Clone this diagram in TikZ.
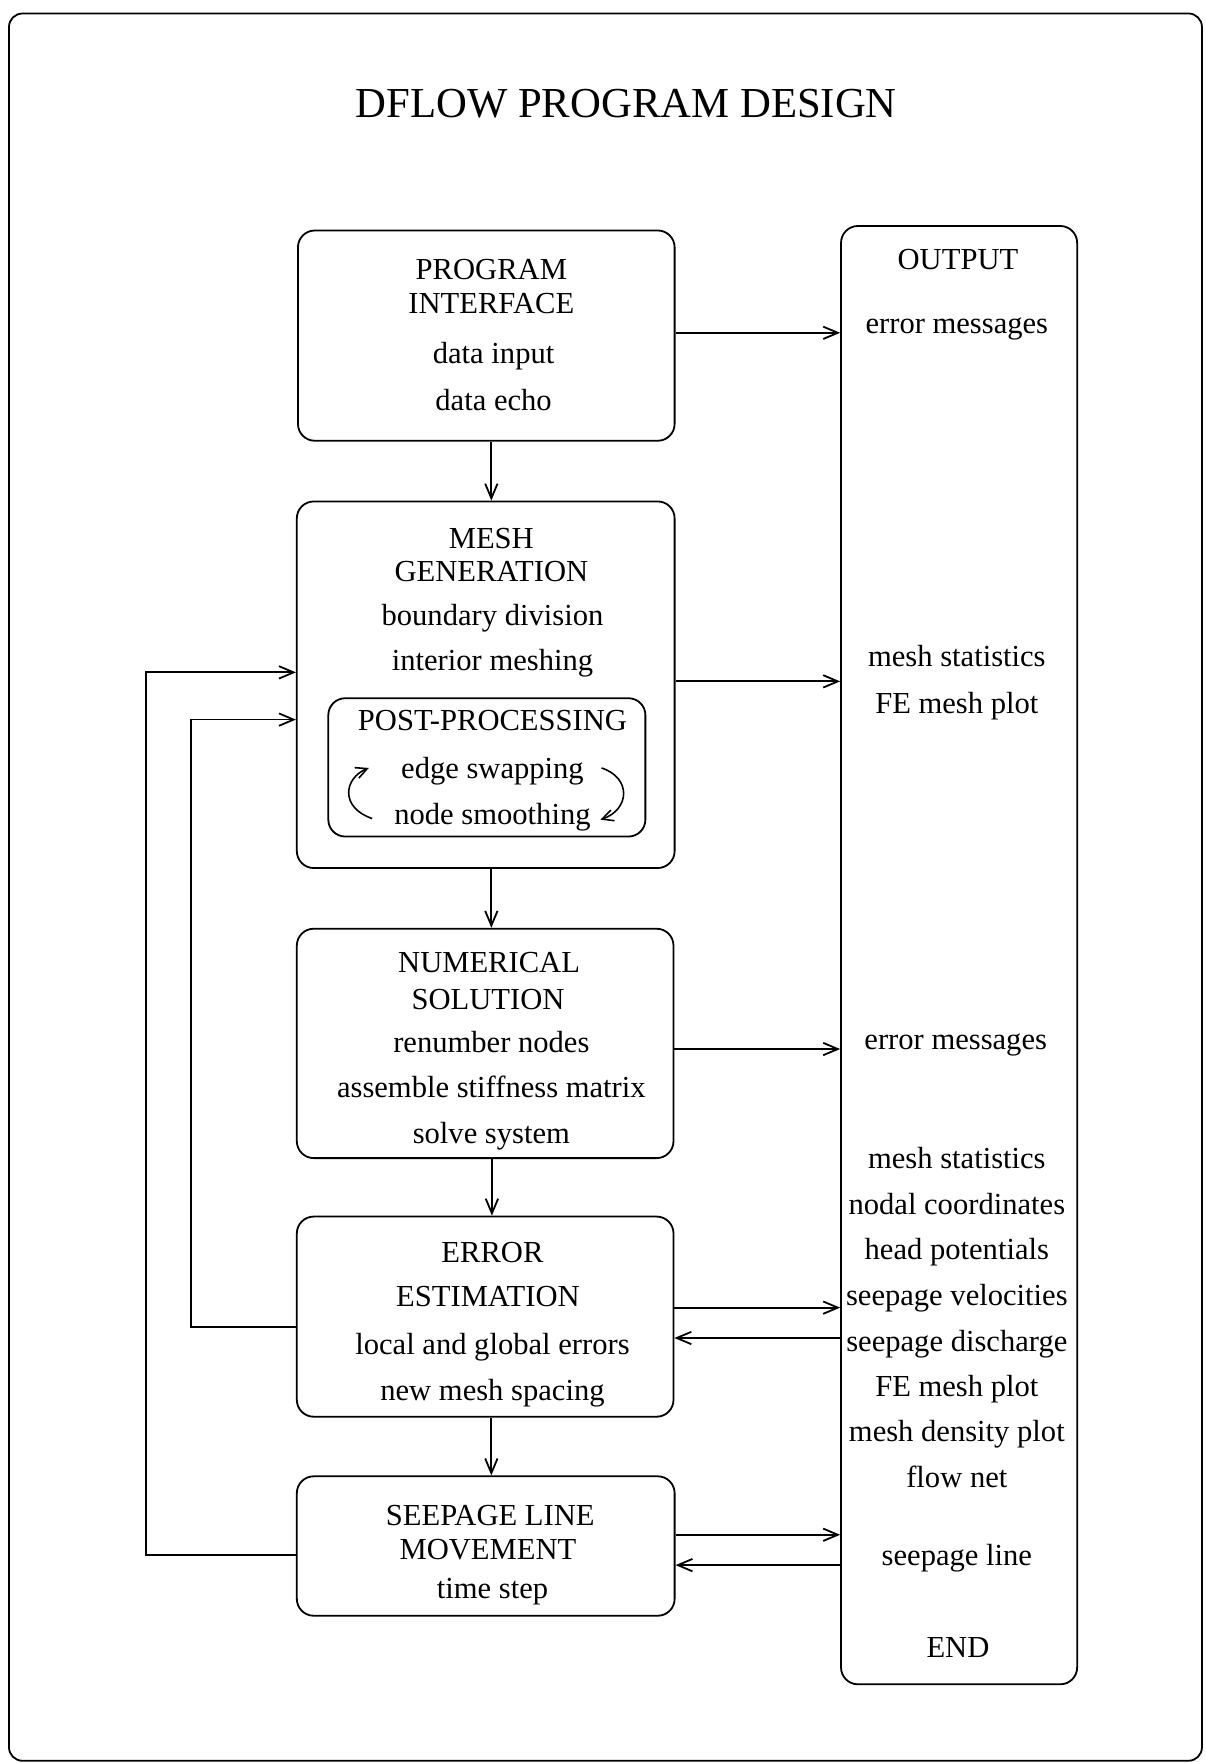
\documentclass[tikz,border=0pt]{standalone}
\usepackage{fontspec}
\setmainfont{Liberation Serif}
\usetikzlibrary{arrows.meta}
\tikzset{
  box/.style={draw, line width=0.8pt, rounded corners=7.5pt, inner sep=0pt},
  lbl/.style={inner sep=0pt, text height=9pt, text depth=0pt, font=\fontsize{13.6pt}{16pt}\selectfont},
  ttl/.style={inner sep=0pt, font=\fontsize{19pt}{22pt}\selectfont},
  arr/.style={line width=0.8pt, -{Straight Barb[length=6.5pt,width=5.5pt]}},
  carr/.style={line width=0.7pt, -{Straight Barb[length=5pt,width=5pt]}},
  line/.style={line width=0.8pt}
}
\begin{document}
\begin{tikzpicture}[x=0.5pt,y=-0.5pt]
\useasboundingbox (0,0) rectangle (1072,1568);
\draw[line, rounded corners=6pt] (8,12) rectangle (1069,1566);
\node[ttl] (title) at (557,92) {DFLOW PROGRAM DESIGN};

% boxes
\node[box, minimum width=167.5pt, minimum height=93.5pt] (pi) at (432.5,298.5) {};
\node[box, minimum width=168pt, minimum height=163pt] (mg) at (432,609) {};
\node[box, minimum width=141pt, minimum height=61.5pt] (pp) at (433,682.5) {};
\node[box, minimum width=167.5pt, minimum height=102pt] (ns) at (431.5,928) {};
\node[box, minimum width=167.5pt, minimum height=89pt] (ee) at (431.5,1171) {};
\node[box, minimum width=168pt, minimum height=62pt] (sl) at (432,1375) {};
\node[box, minimum width=105pt, minimum height=648.5pt] (out) at (853,849.5) {};

% box texts
\node[lbl] (t1a) at (437,240) {PROGRAM};
\node[lbl] (t1b) at (437,270) {INTERFACE};
\node[lbl] (t1c) at (439,314) {data input};
\node[lbl] (t1d) at (439,356) {data echo};

\node[lbl] (t2a) at (437,479) {MESH};
\node[lbl] (t2b) at (437,508) {GENERATION};
\node[lbl] (t2c) at (438,547) {boundary division};
\node[lbl] (t2d) at (438,587) {interior meshing};
\node[lbl] (t2e) at (438,641) {POST-PROCESSING};
\node[lbl] (t2f) at (438,683) {edge swapping};
\node[lbl] (t2g) at (438,724) {node smoothing};

\node[lbl] (t3a) at (435,856) {NUMERICAL};
\node[lbl] (t3b) at (434,889) {SOLUTION};
\node[lbl] (t3c) at (437,927) {renumber nodes};
\node[lbl] (t3d) at (437,967) {assemble stiffness matrix};
\node[lbl] (t3e) at (437,1008) {solve system};

\node[lbl] (t4a) at (438,1114) {ERROR};
\node[lbl] (t4b) at (434,1153) {ESTIMATION};
\node[lbl] (t4c) at (438,1196) {local and global errors};
\node[lbl] (t4d) at (438,1237) {new mesh spacing};

\node[lbl] (t5a) at (436,1348) {SEEPAGE LINE};
\node[lbl] (t5b) at (434,1378) {MOVEMENT};
\node[lbl] (t5c) at (438,1413) {time step};

% output texts
\node[lbl] (o1) at (852,231) {OUTPUT};
\node[lbl] (o2) at (851,288) {error messages};
\node[lbl] (o3) at (851,584) {mesh statistics};
\node[lbl] (o4) at (851,626) {FE mesh plot};
\node[lbl] (o5) at (850,924) {error messages};
\node[lbl] (o6) at (851,1030) {mesh statistics};
\node[lbl] (o7) at (851,1071) {nodal coordinates};
\node[lbl] (o8) at (851,1111) {head potentials};
\node[lbl] (o9) at (851,1152) {seepage velocities};
\node[lbl] (o10) at (851,1193) {seepage discharge};
\node[lbl] (o11) at (851,1233) {FE mesh plot};
\node[lbl] (o12) at (851,1273) {mesh density plot};
\node[lbl] (o13) at (851,1314) {flow net};
\node[lbl] (o14) at (851,1383) {seepage line};
\node[lbl] (o15) at (852,1465) {END};

% vertical arrows
\draw[arr] (pi.south -| 437,0) -- (mg.north -| 437,0);
\draw[arr] (mg.south -| 437,0) -- (ns.north -| 437,0);
\draw[arr] (ns.south -| 437.5,0) -- (ee.north -| 437.5,0);
\draw[arr] (ee.south -| 437,0) -- (sl.north -| 437,0);

% horizontal arrows to output
\draw[arr] (pi.east |- 0,296) -- (out.west |- 0,296);
\draw[arr] (mg.east |- 0,606) -- (out.west |- 0,606);
\draw[arr] (ns.east |- 0,933) -- (out.west |- 0,933);
\draw[arr] (ee.east |- 0,1163) -- (out.west |- 0,1163);
\draw[arr] (out.west |- 0,1190) -- (ee.east |- 0,1190);
\draw[arr] (sl.east |- 0,1365) -- (out.west |- 0,1365);
\draw[arr] (out.west |- 0,1392) -- (sl.east |- 0,1392);

% feedback loops
\coordinate (fb1) at (170,640);
\coordinate (fb2) at (130,598);
\draw[arr] (ee.west |- 0,1180) -| (fb1) -- (mg.west |- fb1);
\draw[arr] (sl.west |- 0,1383) -| (fb2) -- (mg.west |- fb2);

% cycle arrows in post-processing
\coordinate (la) at (331,728);
\coordinate (lb) at (328,683);
\coordinate (ra) at (535,683);
\coordinate (rb) at (534,729);
\draw[carr] (la) .. controls (302,718) and (306,692) .. (lb);
\draw[carr] (ra) .. controls (562,692) and (560,720) .. (rb);
\end{tikzpicture}
\end{document}
